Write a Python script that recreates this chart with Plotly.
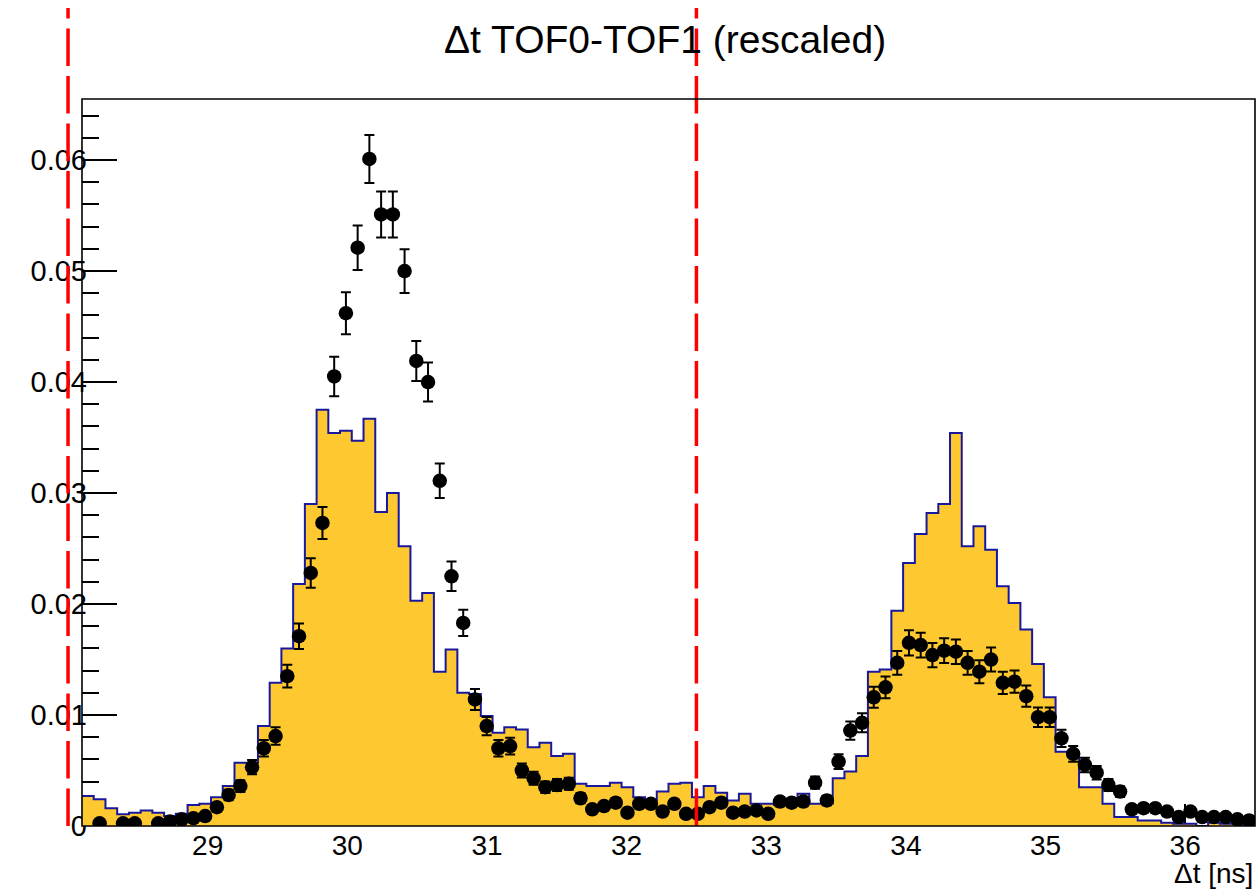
import numpy as np
import plotly.graph_objects as go

# Binning of the Δt histograms (ns)
X_MIN, X_MAX, N_BINS = 28.1, 36.5, 100
Y_MAX = 0.0655

# Selection window (ns)
cut_lines = [28.0, 32.5]
cut_line_top = 0.0737

# Simulated Δt distribution (rescaled), one value per bin
hist_values = [
    0.0027, 0.0024, 0.0016, 0.00105, 0.0012, 0.0014, 0.0012, 0.0009, 0.0011, 0.0019,
    0.0020, 0.0026, 0.0036, 0.0057, 0.0057, 0.0090, 0.0129, 0.0160, 0.0218, 0.0290,
    0.0375, 0.0354, 0.0356, 0.0347, 0.0367, 0.0283, 0.0300, 0.0252, 0.0203, 0.0210,
    0.0139, 0.0159, 0.0120, 0.0119, 0.0099, 0.0084, 0.0089, 0.0087, 0.0071, 0.0075,
    0.0063, 0.0065, 0.0038, 0.0036, 0.0036, 0.0039, 0.0035, 0.0026, 0.0023, 0.0031,
    0.0038, 0.0039, 0.0026, 0.0036, 0.0030, 0.0023, 0.0029, 0.0020, 0.0020, 0.0019,
    0.0019, 0.0029, 0.0020, 0.0020, 0.0043, 0.0049, 0.0063, 0.0139, 0.0141, 0.0194,
    0.0237, 0.0263, 0.0282, 0.0290, 0.0354, 0.0252, 0.0270, 0.0249, 0.0216, 0.0201,
    0.0177, 0.0146, 0.0116, 0.0067, 0.0064, 0.0035, 0.0035, 0.0020, 0.0008, 0.0008,
    0.0005, 0.0005, 0.0003, 0.0002, 0.0002, 0.0000, 0.0003, 0.0002, 0.0002, 0.0001,
]

# Measured Δt distribution (rescaled); None = empty bin
data_values = [
    None, 0.00024, None, 0.00024, 0.00024, None, 0.00024, 0.0004, 0.0006, 0.0007,
    0.0009, 0.0017, 0.0028, 0.0036, 0.0053, 0.0070, 0.0081, 0.0135, 0.0171, 0.0228,
    0.0273, 0.0405, 0.0462, 0.0521, 0.0601, 0.0551, 0.0551, 0.0500, 0.0419, 0.0400,
    0.0311, 0.0225, 0.0183, 0.0114, 0.0090, 0.0070, 0.0072, 0.0050, 0.0043, 0.0035,
    0.0037, 0.0038, 0.0025, 0.0015, 0.0018, 0.0021, 0.0012, 0.0020, 0.0020, 0.0013,
    0.0020, 0.0011, 0.0011, 0.0017, 0.0021, 0.0012, 0.0013, 0.0014, 0.0011, 0.0022,
    0.0021, 0.0022, 0.0039, 0.0023, 0.0058, 0.0086, 0.0093, 0.0116, 0.0125, 0.0147,
    0.0165, 0.0163, 0.0154, 0.0158, 0.0157, 0.0147, 0.0139, 0.0150, 0.0129, 0.0130,
    0.0117, 0.0098, 0.0098, 0.0079, 0.0065, 0.0055, 0.0048, 0.0037, 0.0031, 0.0015,
    0.0016, 0.0016, 0.0013, 0.0008, 0.0013, 0.0008, 0.0008, 0.0008, 0.0006, 0.0005,
]

data_errors = [
    None, 0.00014, None, 0.00014, 0.00014, None, 0.00014, 0.00018, 0.00022, 0.00023,
    0.00026, 0.00036, 0.00047, 0.00053, 0.00064, 0.00074, 0.00079, 0.00102, 0.00115, 0.00133,
    0.00145, 0.00177, 0.00189, 0.00201, 0.00216, 0.00207, 0.00207, 0.00197, 0.00180, 0.00176,
    0.00155, 0.00132, 0.00119, 0.00094, 0.00083, 0.00074, 0.00075, 0.00062, 0.00058, 0.00052,
    0.00054, 0.00054, 0.00044, 0.00034, 0.00037, 0.00040, 0.00030, 0.00039, 0.00039, 0.00032,
    0.00039, 0.00029, 0.00029, 0.00036, 0.00040, 0.00030, 0.00032, 0.00033, 0.00029, 0.00041,
    0.00040, 0.00041, 0.00055, 0.00042, 0.00067, 0.00082, 0.00085, 0.00095, 0.00098, 0.00107,
    0.00113, 0.00112, 0.00109, 0.00111, 0.00110, 0.00107, 0.00104, 0.00108, 0.00100, 0.00100,
    0.00095, 0.00087, 0.00087, 0.00078, 0.00071, 0.00065, 0.00061, 0.00054, 0.00049, 0.00034,
    0.00035, 0.00035, 0.00032, 0.00025, 0.00032, 0.00025, 0.00025, 0.00025, 0.00022, 0.00020,
]

x_ticks = [29, 30, 31, 32, 33, 34, 35, 36]

edges = np.linspace(X_MIN, X_MAX, N_BINS + 1)
centers = 0.5 * (edges[:-1] + edges[1:])

FONT = "Liberation Sans, Arial, Helvetica, sans-serif"
FILL = "#fec830"
OUTLINE = "#18189e"

fig = go.Figure()

# Filled step histogram
fig.add_trace(go.Scatter(
    x=edges,
    y=hist_values + [hist_values[-1]],
    mode="lines",
    line=dict(shape="hv", color=OUTLINE, width=2),
    fill="tozeroy",
    fillcolor=FILL,
    hoverinfo="skip",
    showlegend=False,
))

# Data points with error bars
fig.add_trace(go.Scatter(
    x=centers,
    y=data_values,
    mode="markers",
    marker=dict(symbol="circle", size=14.5, color="black"),
    error_y=dict(type="data", array=data_errors, visible=True,
                 color="black", thickness=2, width=5),
    showlegend=False,
))


def x_paper(v):
    return (v - X_MIN) / (X_MAX - X_MIN)


def y_paper(v):
    return v / Y_MAX


shapes = []
# Red dashed cut lines (drawn bottom to top, not clipped to the frame)
for xc in cut_lines:
    shapes.append(dict(
        type="line", xref="paper", yref="paper",
        x0=x_paper(xc), x1=x_paper(xc), y0=y_paper(0.0), y1=y_paper(cut_line_top),
        line=dict(color="#ff0000", width=3.5, dash="37.5px,10px"),
        layer="above",
    ))
# Frame box
shapes.append(dict(
    type="rect", xref="paper", yref="paper", x0=0, x1=1, y0=0, y1=1,
    line=dict(color="black", width=1.6), fillcolor="rgba(0,0,0,0)", layer="above",
))

annotations = [
    dict(text="Δt TOF0-TOF1 (rescaled)", xref="paper", yref="paper",
         x=0.497, y=1.0812, xanchor="center", yanchor="middle", showarrow=False,
         font=dict(family=FONT, size=39, color="black")),
    dict(text="Δt [ns]", xref="paper", yref="paper",
         x=1.0, y=-0.0647, xanchor="right", yanchor="middle", showarrow=False,
         font=dict(family=FONT, size=28, color="black")),
]

fig.update_layout(
    width=1258, height=891,
    margin=dict(l=82, r=3, t=99, b=65),
    paper_bgcolor="white", plot_bgcolor="white",
    font=dict(family=FONT, size=29, color="black"),
    shapes=shapes,
    annotations=annotations,
    showlegend=False,
)

fig.update_xaxes(
    range=[X_MIN, X_MAX],
    tickmode="array", tickvals=x_ticks, ticktext=[str(t) for t in x_ticks],
    ticks="inside", ticklen=22, tickwidth=1.5, tickcolor="black",
    showgrid=False, zeroline=False, showline=False,
    layer="below traces",
    tickfont=dict(family=FONT, size=28, color="black"),
)
fig.update_yaxes(
    range=[0, Y_MAX],
    dtick=0.01, tick0=0,
    ticks="inside", ticklen=35, tickwidth=1.5, tickcolor="black",
    minor=dict(ticks="inside", ticklen=17, dtick=0.002, tickwidth=1.5, tickcolor="black"),
    showgrid=False, zeroline=False, showline=False,
    layer="below traces",
    ticklabelstandoff=-6,
    tickfont=dict(family=FONT, size=29, color="black"),
)

fig.write_html("out.html")
